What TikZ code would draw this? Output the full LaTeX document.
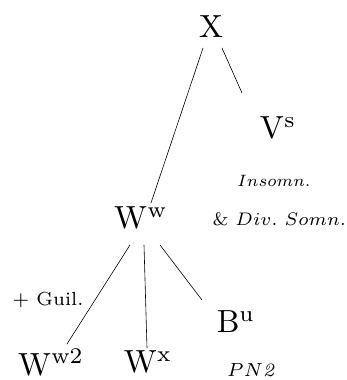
\documentclass[tikz,border=0pt]{standalone}
\usepackage{tikz}
\tikzset{
  ms/.style={inner sep=0pt,scale=3.2},
  note/.style={inner sep=0pt,scale=2.7,font=\fontsize{7}{8}\selectfont},
  branch/.style={line width=0.6pt}
}
\begin{document}
\begin{tikzpicture}[x=1pt,y=-1pt,line cap=round]
  \useasboundingbox (0,0) rectangle (347,380);
  % witnesses
  \node[ms] (X) at (211,27) {X};
  \node[ms] (Vs) at (278,128) {$\mathrm{V^s}$};
  \node[ms] (Ww) at (141,218) {$\mathrm{W^w}$};
  \node[ms] (Bu) at (236,322) {$\mathrm{B^u}$};
  \node[ms] (Ww2) at (51,362) {$\mathrm{W^{w2}}$};
  \node[ms] (Wx) at (148,362) {$\mathrm{W^x}$};
  % texts
  \node[note,scale=2.35/2.7] (ins) at (274,181) {$Insomn.$};
  \node[note,scale=2.6/2.7,anchor=west] (div) at (212,219) {$\&\ Div.\ Somn.$};
  \node[note] (guil) at (48,300) {+ Guil.};
  \node[note] (pn) at (252,370) {$PN\mathit{2}$};
  % branches
  \draw[branch] ([xshift=-8pt,yshift=-21pt]X.center) -- ([xshift=10pt,yshift=15pt]Ww.center);
  \draw[branch] ([xshift=11pt,yshift=-21pt]X.center) -- ([xshift=-36pt,yshift=35pt]Vs.center);
  \draw[branch] ([xshift=-11pt,yshift=-27pt]Ww.center) -- ([xshift=16pt,yshift=18pt]Ww2.center);
  \draw[branch] ([xshift=3pt,yshift=-27pt]Ww.center) -- ([xshift=-1pt,yshift=14pt]Wx.center);
  \draw[branch] ([xshift=19pt,yshift=-27pt]Ww.center) -- ([xshift=-34pt,yshift=22pt]Bu.center);
\end{tikzpicture}
\end{document}
